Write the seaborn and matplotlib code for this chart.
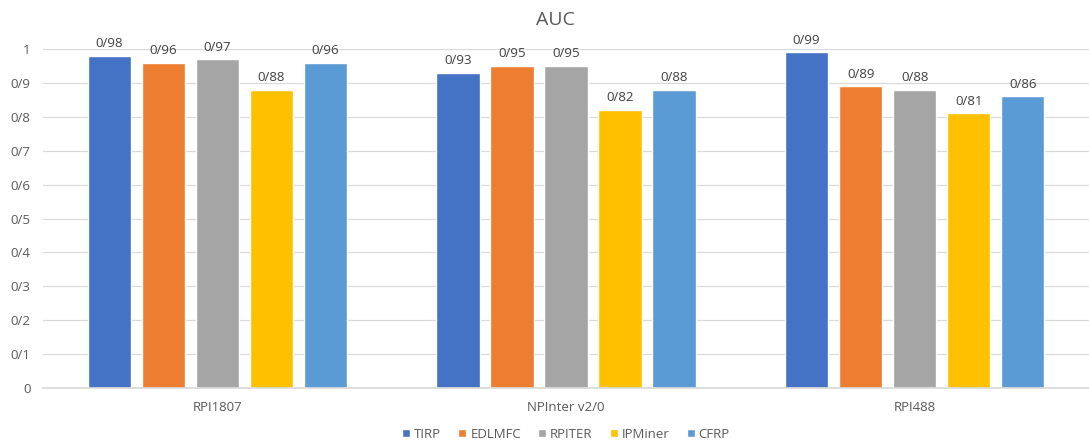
import matplotlib
matplotlib.use("Agg")
import matplotlib.pyplot as plt
import seaborn as sns
import pandas as pd

# Datasets, methods and AUC scores
datasets = ["RPI1807", "NPInter v2/0", "RPI488"]
methods = ["TIRP", "EDLMFC", "RPITER", "IPMiner", "CFRP"]
tirp = [0.98, 0.93, 0.99]
edlmfc = [0.96, 0.95, 0.89]
rpiter = [0.97, 0.95, 0.88]
ipminer = [0.88, 0.82, 0.81]
cfrp = [0.96, 0.88, 0.86]
y_ticks = [0, 0.1, 0.2, 0.3, 0.4, 0.5, 0.6, 0.7, 0.8, 0.9, 1.0]
y_tick_labels = ["0", "0/1", "0/2", "0/3", "0/4", "0/5", "0/6", "0/7", "0/8", "0/9", "1"]

colors = ["#4472C4", "#ED7D31", "#A5A5A5", "#FFC000", "#5B9BD5"]

rows = []
for m, vals in zip(methods, [tirp, edlmfc, rpiter, ipminer, cfrp]):
    for d, v in zip(datasets, vals):
        rows.append({"dataset": d, "method": m, "auc": v})
df = pd.DataFrame(rows)

sns.set_theme(style="white")
plt.rcParams["font.family"] = ["Open Sans", "DejaVu Sans"]

fig = plt.figure(figsize=(10.89, 4.41), dpi=100)
ax = fig.add_axes([0.0395, 0.120, 0.9605, 0.769])

sns.barplot(data=df, x="dataset", y="auc", hue="method", order=datasets,
            hue_order=methods, palette=colors, width=0.775, gap=0.2,
            saturation=1, errorbar=None, ax=ax, legend=True)

ax.set_xlim(-0.5, 2.5)
ax.set_ylim(0, 1.0)
ax.set_yticks(y_ticks)
ax.set_yticklabels(y_tick_labels)
ax.yaxis.grid(True, color="#D9D9D9", linewidth=0.9)
ax.set_axisbelow(True)
for s in ["top", "right", "left"]:
    ax.spines[s].set_visible(False)
ax.spines["bottom"].set_color("#D9D9D9")
ax.tick_params(axis="both", length=0, colors="#595959", labelsize=9.5)
ax.tick_params(axis="y", pad=9)
ax.tick_params(axis="x", pad=9)
ax.set_xlabel("")
ax.set_ylabel("")

for cont in ax.containers:
    labels = ["0/" + f"{v:.2f}"[2:] for v in cont.datavalues]
    ax.bar_label(cont, labels=labels, padding=4, fontsize=9.5,
                 color="#404040", clip_on=False)

fig.text(555 / 1089, 1 - 20 / 441, "AUC", fontsize=14, color="#595959",
         ha="center", va="center")

handles, lbls = ax.get_legend_handles_labels()
ax.legend(handles, lbls, loc="center", bbox_to_anchor=(0.5, -0.136),
          ncol=5, frameon=False, fontsize=9.5, handlelength=0.6,
          handleheight=0.6, handletextpad=0.3, columnspacing=1.3,
          labelcolor="#595959", borderpad=0.2)

fig.savefig("out.png", dpi=100)
